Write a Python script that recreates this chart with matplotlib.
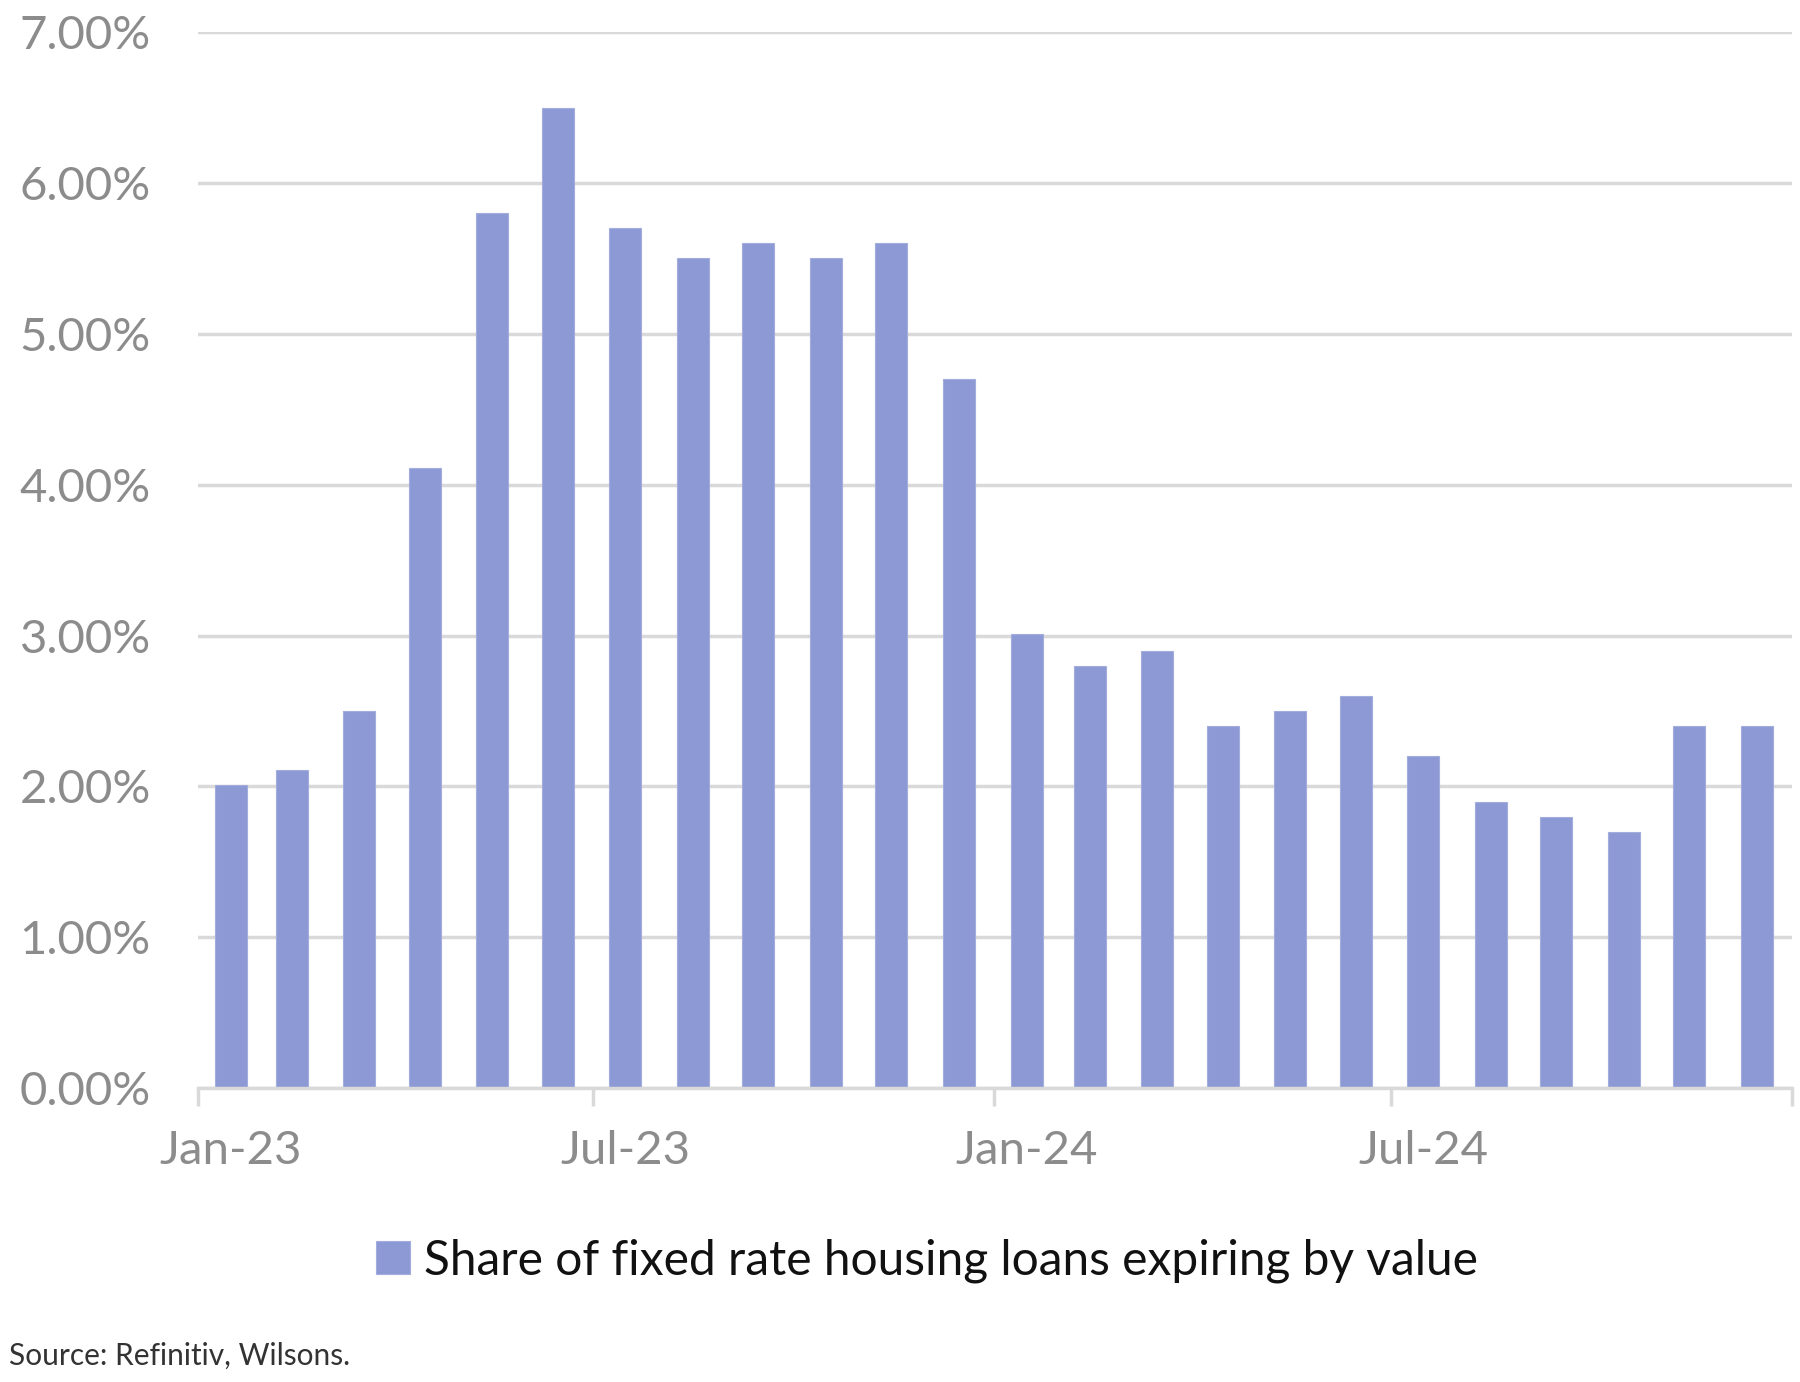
import matplotlib
matplotlib.use("Agg")
import matplotlib.pyplot as plt
import pandas as pd

months = pd.date_range("2023-01-31", "2024-12-31", freq="ME")
values = [2.01, 2.11, 2.50, 4.11, 5.80, 6.50, 5.70, 5.50, 5.60, 5.50, 5.60, 4.70,
          3.01, 2.80, 2.90, 2.40, 2.50, 2.60, 2.20, 1.90, 1.80, 1.70, 2.40, 2.40]
yticks = [0, 1, 2, 3, 4, 5, 6, 7]
xlabel_months = ["Jan-23", "Jul-23", "Jan-24", "Jul-24"]
series_name = "Share of fixed rate housing loans expiring by value"
source = "Source: Refinitiv, Wilsons."

plt.rcParams['font.family'] = ['Lato', 'DejaVu Sans']

fig = plt.figure(figsize=(18, 13.82), dpi=100)
ax = fig.add_axes([0.110, 0.2126, 0.8855, 0.7641])

x = months - pd.Timedelta(days=15)
bar_color = "#8C99D4"
bars = ax.bar(x, values, width=14.7, color=bar_color, edgecolor="#A3ADDD",
              linewidth=0.8, label=series_name, zorder=3)

ax.set_ylim(0, 7)
ax.set_yticks(yticks)
ax.set_yticklabels([f"{v:.2f}%" for v in yticks])
ax.grid(axis="y", color="#D9D9D9", linewidth=2.5, zorder=0)
ax.tick_params(axis="y", length=0, pad=34, labelsize=34, labelcolor="#8C8C8C")

ax.set_xlim(pd.Timestamp("2023-01-01"), pd.Timestamp("2025-01-01"))
major = [pd.Timestamp(d) for d in ["2023-01-01", "2023-07-01", "2024-01-01", "2024-07-01", "2025-01-01"]]
ax.set_xticks(major)
ax.set_xticklabels([""] * len(major))
ax.tick_params(axis="x", which="major", length=13, width=2.5, color="#D9D9D9")
label_pos = [x[0], x[6], x[12], x[18]]
ax.set_xticks(label_pos, minor=True)
ax.set_xticklabels(xlabel_months, minor=True)
ax.tick_params(axis="x", which="minor", length=0, pad=30, labelsize=34, labelcolor="#8C8C8C")

for s in ["top", "right", "left"]:
    ax.spines[s].set_visible(False)
ax.spines["bottom"].set_color("#D9D9D9")
ax.spines["bottom"].set_linewidth(2.5)
ax.spines["bottom"].set_zorder(4)

leg = fig.legend(handles=[bars], labels=[series_name], loc="center",
                 bbox_to_anchor=(0.515, 0.088), frameon=False, fontsize=34.5,
                 handlelength=0.7, handleheight=0.7, handletextpad=0.3)
for t in leg.get_texts():
    t.set_color("#111111")

fig.text(0.005, 0.019, source, fontsize=21.5, color="#333333", ha="left", va="center")

fig.savefig("out.png", dpi=100)
